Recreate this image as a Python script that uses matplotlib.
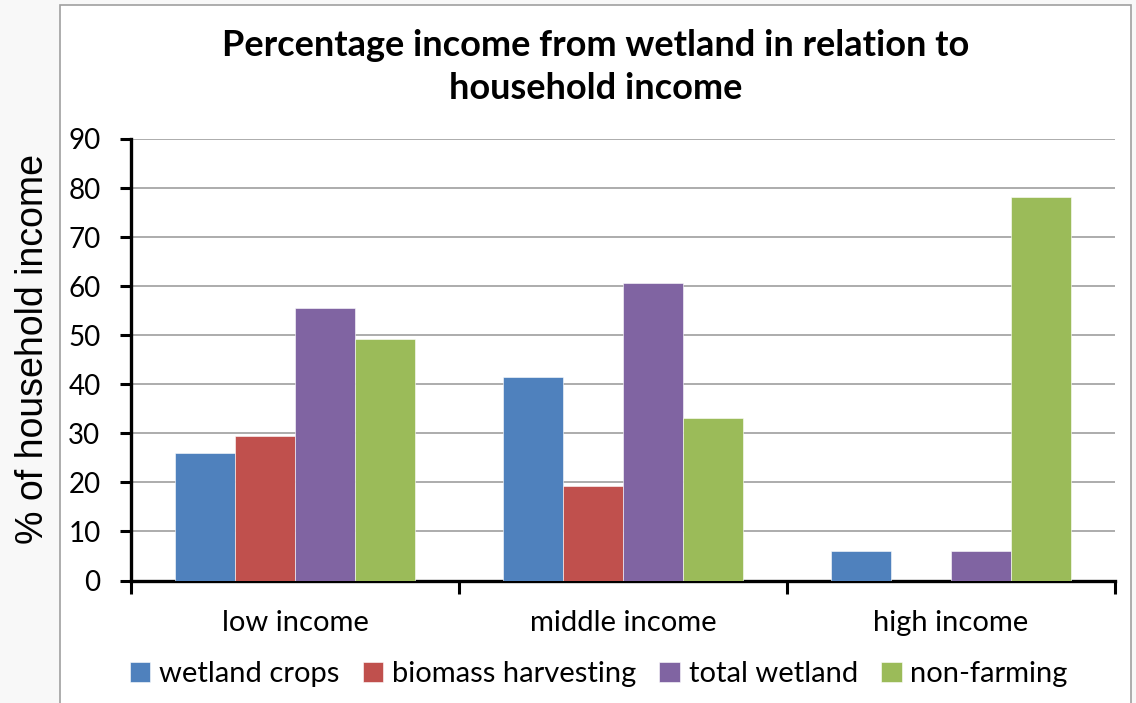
import numpy as np
import matplotlib
matplotlib.use('Agg')
import matplotlib.pyplot as plt
from matplotlib.patches import Rectangle

# income groups and the share of household income per source (%)
groups = ['low income', 'middle income', 'high income']
series = ['wetland crops', 'biomass harvesting', 'total wetland', 'non-farming']
wetland_crops = [26.0, 41.5, 6.0]
biomass_harvesting = [29.5, 19.3, 0.0]
total_wetland = [55.5, 60.7, 6.0]
non_farming = [49.2, 33.2, 78.1]
colors = ['#4F81BD', '#C0504D', '#8064A2', '#9BBB59']

plt.rcParams['font.family'] = ['Lato', 'DejaVu Sans']

fig = plt.figure(figsize=(11.36, 7.03), dpi=100)
fig.patch.set_facecolor('#f8f8f8')

# white chart area with thin grey frame
frame = Rectangle((60 / 1136, -0.02), (1131 - 60) / 1136, 1 - 5 / 703 + 0.02,
                  transform=fig.transFigure, facecolor='white',
                  edgecolor='#a0a0a0', linewidth=1.2, zorder=-1)
fig.patches.append(frame)

ax = fig.add_axes([131 / 1136, 1 - 580.5 / 703, (1115 - 131) / 1136, (580.5 - 139) / 703])
ax.set_facecolor('none')

x = np.arange(len(groups))
w = 0.183
for i, (vals, name) in enumerate(zip([wetland_crops, biomass_harvesting, total_wetland, non_farming], series)):
    ax.bar(x + (i - 1.5) * w, vals, w, color=colors[i], label=name,
           edgecolor='white', linewidth=0.4, zorder=3)

ax.set_xlim(-0.5, 2.5)
ax.set_ylim(0, 90)
ax.set_yticks(range(0, 91, 10))
ax.yaxis.grid(True, color='#a6a6a6', linewidth=1.3, zorder=0)
ax.set_axisbelow(True)

# category boundaries as ticks, names centred between them
ax.set_xticks([-0.5, 0.5, 1.5, 2.5])
ax.set_xticklabels([])
ax.set_xticks(x, minor=True)
ax.set_xticklabels(groups, minor=True, fontsize=21)
ax.tick_params(axis='x', which='major', direction='out', length=9, width=2.2)
ax.tick_params(axis='x', which='minor', length=0, pad=21)
ax.tick_params(axis='y', direction='out', length=8, width=2.2, labelsize=20, pad=14)

for s in ['top', 'right']:
    ax.spines[s].set_visible(False)
for s in ['left', 'bottom']:
    ax.spines[s].set_linewidth(2.4)
    ax.spines[s].set_color('black')

ax.set_ylabel('% of household income', fontsize=27, family=['Liberation Sans'])
ax.yaxis.set_label_coords(-0.081, 0.525)

fig.text(0.524, 1 - 67 / 703, 'Percentage income from wetland in relation to\nhousehold income',
         ha='center', va='center', fontsize=26, fontweight='bold', linespacing=1.38)

fig.legend(loc='center', bbox_to_anchor=(0.527, 1 - 674 / 703), ncol=4, frameon=False,
           fontsize=21, handlelength=0.7, handleheight=0.7, handletextpad=0.3,
           columnspacing=0.8)

fig.savefig('out.png', dpi=100, facecolor=fig.get_facecolor())
